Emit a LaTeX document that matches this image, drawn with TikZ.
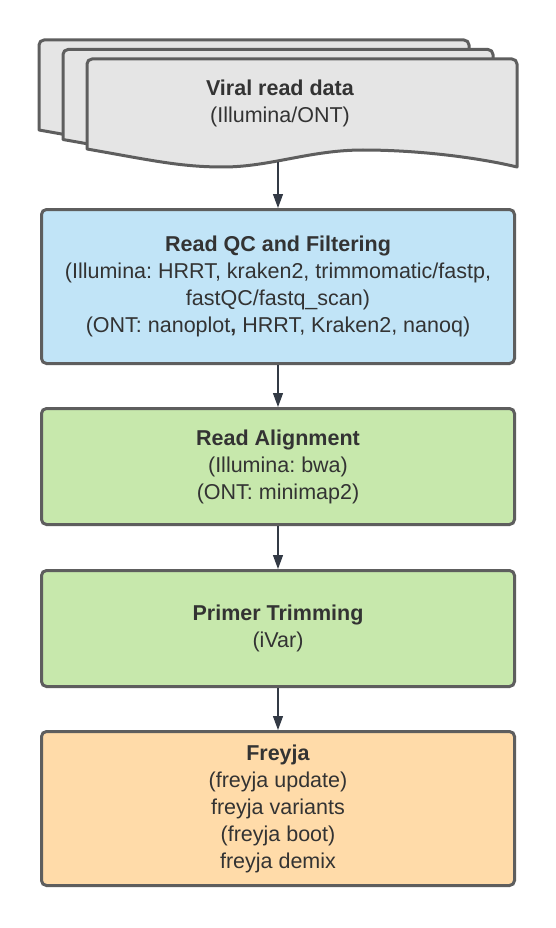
\documentclass[tikz,border=0pt]{standalone}
\usepackage{fontspec}
\setmainfont{Liberation Sans}
\usetikzlibrary{arrows.meta}
\frenchspacing
\definecolor{bordergray}{HTML}{5E5E5E}
\definecolor{txtgray}{HTML}{333333}
\definecolor{arrowcol}{HTML}{333A45}
\definecolor{docgray}{HTML}{E5E5E5}
\definecolor{qcblue}{HTML}{C1E4F7}
\definecolor{aligngreen}{HTML}{C7E8AC}
\definecolor{freyjaorange}{HTML}{FFDBA9}
\tikzset{
  stepbox/.style={draw=bordergray, line width=3pt, rounded corners=5pt,
    minimum width=473pt, align=center, text=txtgray,
    font=\fontsize{21.5}{27}\selectfont, inner sep=0pt},
  flowarrow/.style={draw=arrowcol, line width=1.2pt,
    -{Triangle[length=14pt,width=10pt]}},
  docsheet/.style={draw=bordergray, line width=3pt, fill=docgray, line join=round}
}
\newcommand{\docpath}[2]{%
  \path[docsheet, shift={(#1,#2)}]
    (0,149) -- (0,64) [rounded corners=5pt] -- (0,59) -- (430,59) [sharp corners] -- (430,167)
    .. controls (393,158) and (333,150) .. (276,150)
    .. controls (223,150) and (183,167) .. (136,167)
    .. controls (93,167) and (63,160) .. (0,149) -- cycle;}
\begin{document}
\begin{tikzpicture}[x=1pt,y=-1pt]
\useasboundingbox (0,0) rectangle (556,928);
\fill[white] (0,0) rectangle (556,928);
% stacked document
\docpath{39}{-19}
\docpath{63}{-9.5}
\docpath{87}{0}
\node[text=txtgray, align=center, font=\fontsize{21.5}{27}\selectfont] (data) at (280,103)
  {\textbf{Viral read data}\\(Illumina/ONT)};
\coordinate (dataout) at (278,162);
% boxes
\node[stepbox, fill=qcblue, minimum height=154pt] (qc) at (278,286.5)
  {\textbf{Read QC and Filtering}\\(Illumina: HRRT, kraken2, trimmomatic/fastp,\\fastQC/fastq\_scan)\\(ONT: nanoplot\textbf{,} HRRT, Kraken2, nanoq)};
\node[stepbox, fill=aligngreen, minimum height=116pt] (align) at (278,466.5)
  {\textbf{Read Alignment}\\(Illumina: bwa)\\(ONT: minimap2)};
\node[stepbox, fill=aligngreen, minimum height=116pt] (trim) at (278,628.5)
  {\textbf{Primer Trimming}\\(iVar)};
\node[stepbox, fill=freyjaorange, minimum height=154pt] (freyja) at (278,808.5)
  {\textbf{Freyja}\\(freyja update)\\freyja variants\\ (freyja boot)\\freyja demix};
% arrows
\draw[flowarrow] (dataout) -- (qc.north);
\draw[flowarrow] (qc.south) -- (align.north);
\draw[flowarrow] (align.south) -- (trim.north);
\draw[flowarrow] (trim.south) -- (freyja.north);
\end{tikzpicture}
\end{document}
